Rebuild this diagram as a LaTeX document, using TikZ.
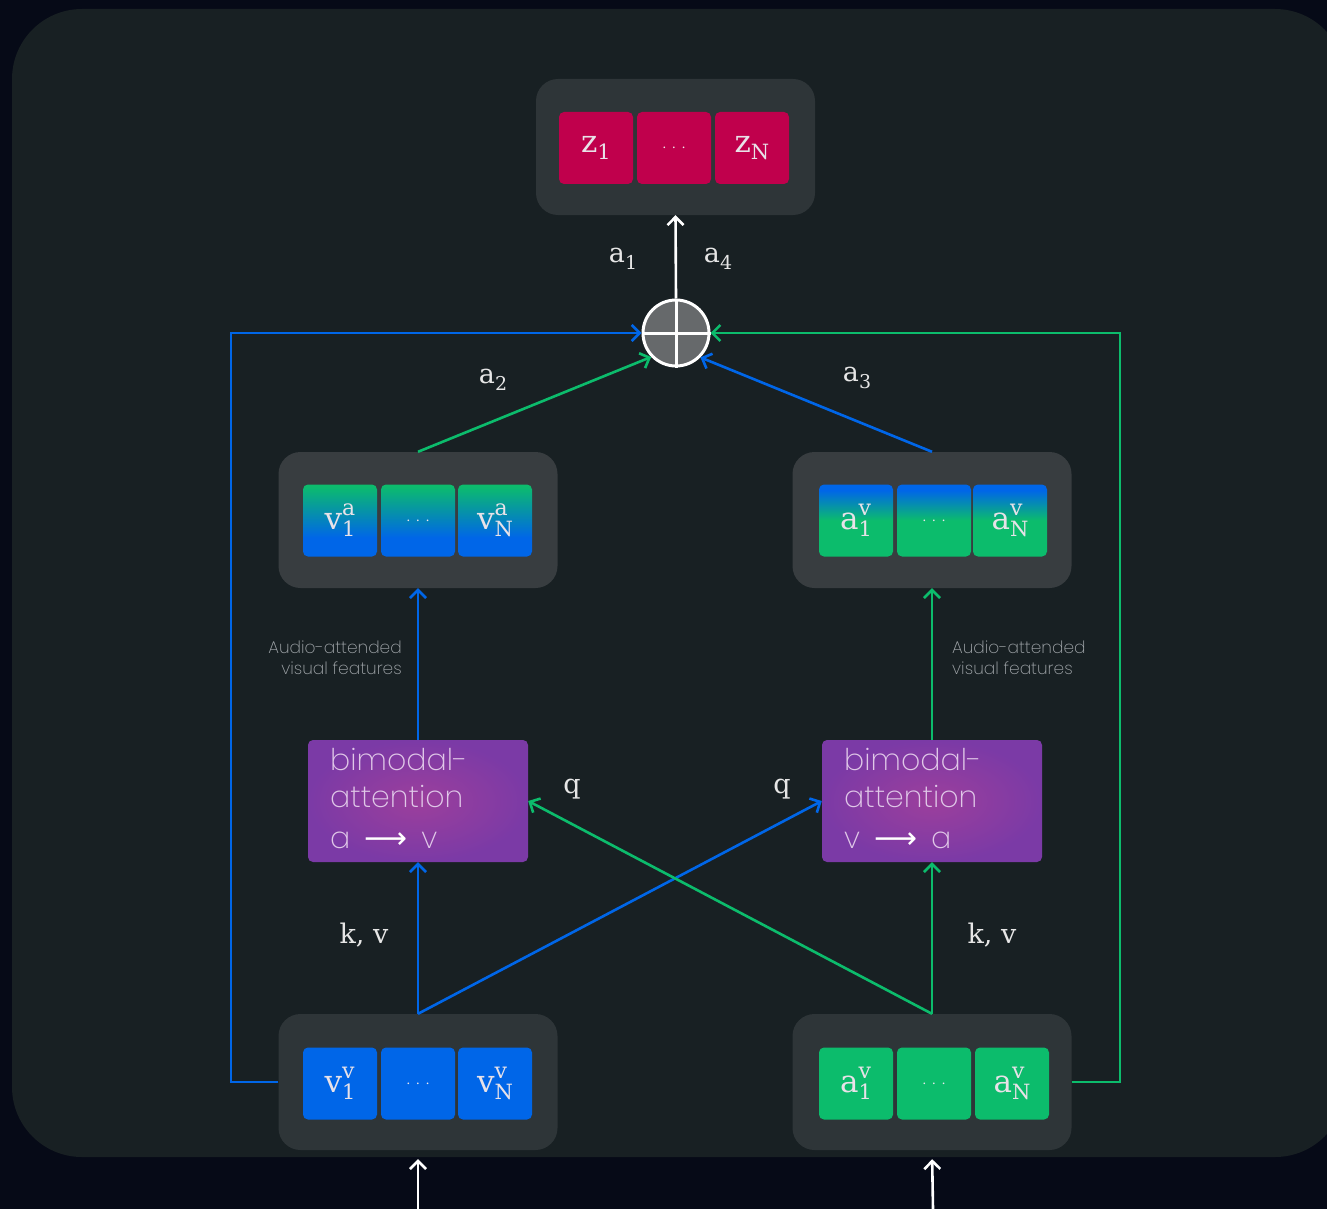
\documentclass[tikz,border=0pt]{standalone}
\usepackage{fontspec}
\setmainfont{DejaVu Serif}
\newfontfamily\thinfont{Poppins ExtraLight}
\newfontfamily\symfont{DejaVu Sans}
\usetikzlibrary{arrows.meta}

\definecolor{bgnavy}{HTML}{060A17}
\definecolor{panel}{HTML}{182023}
\definecolor{boxgray}{HTML}{2E3538}
\definecolor{boxmid}{HTML}{383D40}
\definecolor{crimson}{HTML}{C0004C}
\definecolor{vblue}{HTML}{0066E8}
\definecolor{vgreen}{HTML}{0CBC6C}
\definecolor{circgray}{HTML}{66696B}
\definecolor{purpc}{HTML}{9C3F9C}
\definecolor{purpe}{HTML}{7B3AA6}
\definecolor{celltext}{HTML}{E8E2E8}
\definecolor{lbltext}{HTML}{E6E6E6}
\definecolor{notetext}{HTML}{A2A7AB}
\definecolor{bimtext}{HTML}{E0C8E8}

% gradients of the attended feature cells
\pgfdeclareverticalshading{vafade}{100bp}{color(0bp)=(vblue); color(38bp)=(vblue); color(74bp)=(vgreen); color(100bp)=(vgreen)}
\pgfdeclareverticalshading{avfade}{100bp}{color(0bp)=(vgreen); color(50bp)=(vgreen); color(71bp)=(vblue); color(100bp)=(vblue)}

% symbol with subscript, and with stacked super/subscript
\newcommand\fsub[2]{#1\raisebox{-0.25em}{\fontsize{19}{19}\selectfont #2}}
\newcommand\csub[2]{#1\raisebox{-0.25em}{\fontsize{21}{21}\selectfont #2}}
\newcommand\fss[3]{#1\rlap{\raisebox{0.44em}{\fontsize{22}{22}\selectfont #2}}\raisebox{-0.24em}{\fontsize{21}{21}\selectfont #3}}
\newcommand\celldots{{\fontsize{13}{13}\selectfont\color{celltext!75}. . .}}

\begin{document}
\begin{tikzpicture}[x=1pt,y=-1pt,
  outerbox/.style={fill=boxgray, rounded corners=22pt, minimum width=279pt, minimum height=136pt, inner sep=0pt},
  midbox/.style={outerbox, fill=boxmid},
  cell/.style={minimum width=74pt, minimum height=72pt, rounded corners=5pt, inner sep=0pt,
    text=celltext, font=\fontsize{31}{31}\selectfont},
  bimod/.style={minimum width=220pt, minimum height=122pt, rounded corners=5pt, inner sep=0pt,
    inner color=purpc, outer color=purpe},
  bimline/.style={anchor=base west, inner sep=0pt, text=bimtext, font=\thinfont\fontsize{30}{30}\selectfont},
  lbl/.style={text=lbltext, font=\fontsize{27}{27}\selectfont, inner sep=0pt},
  note/.style={text=notetext, font=\thinfont\fontsize{17}{21}\selectfont, inner sep=0pt},
  conn/.style={line width=2.6pt, -{Straight Barb[length=8pt,width=16pt]}},
  bconn/.style={conn, draw=vblue},
  gconn/.style={conn, draw=vgreen},
  wconn/.style={conn, draw=white}]

\useasboundingbox (0,0) rectangle (1327,1209);
\fill[bgnavy] (0,0) rectangle (1327,1209);
\begin{scope}
  \clip (0,0) rectangle (1327,1209);
  \fill[panel, rounded corners=70pt] (12,9) rectangle (1345,1157);
\end{scope}

% output block
\node[outerbox] (ztop) at (675.5,147) {};
\node[cell, fill=crimson] (z1) at (596,148) {\csub{z}{1}};
\node[cell, fill=crimson] (zd) at (674,148) {\celldots};
\node[cell, fill=crimson] (zN) at (752,148) {\csub{z}{N}};

% attended features
\node[midbox] (midL) at (418,520) {};
\node[cell, shading=vafade] (va1) at (340,520.5) {\fss{v}{a}{1}};
\node[cell, shading=vafade] (vad) at (418,520.5) {\celldots};
\node[cell, shading=vafade] (vaN) at (495,520.5) {\fss{v}{a}{N}};

\node[midbox] (midR) at (932,520) {};
\node[cell, shading=avfade] (av1) at (856,520.5) {\fss{a}{v}{1}};
\node[cell, shading=avfade] (avd) at (934,520.5) {\celldots};
\node[cell, shading=avfade] (avN) at (1010,520.5) {\fss{a}{v}{N}};

% input features
\node[outerbox] (botL) at (418,1082) {};
\node[cell, fill=vblue] (vv1) at (340,1083.5) {\fss{v}{v}{1}};
\node[cell, fill=vblue] (vvd) at (418,1083.5) {\celldots};
\node[cell, fill=vblue] (vvN) at (495,1083.5) {\fss{v}{v}{N}};

\node[outerbox] (botR) at (932,1082) {};
\node[cell, fill=vgreen] (aa1) at (856,1083.5) {\fss{a}{v}{1}};
\node[cell, fill=vgreen] (aad) at (934,1083.5) {\celldots};
\node[cell, fill=vgreen] (aaN) at (1012,1083.5) {\fss{a}{v}{N}};

% bimodal attention blocks
\node[bimod] (bimL) at (418,801) {};
\node[bimline] (bimL1) at (330,770) {bimodal-};
\node[bimline] (bimL2) at (330,807) {attention};
\node[bimline] (bimL3) at (330,848) {a\hspace{14pt}{\symfont\color{white}⟶}\hspace{14pt}v};

\node[bimod] (bimR) at (932,801) {};
\node[bimline] (bimR1) at (844,770) {bimodal-};
\node[bimline] (bimR2) at (844,807) {attention};
\node[bimline] (bimR3) at (844,848) {v\hspace{14pt}{\symfont\color{white}⟶}\hspace{14pt}a};

% summation node
\node[circle, fill=circgray, draw=white, line width=3pt, minimum size=66pt, inner sep=0pt] (circ) at (676,333) {};
\draw[white, line width=3pt] (circ.north) -- (circ.south) (circ.west) -- (circ.east);

% rails and connectors
\coordinate (lrail) at (231,333);
\coordinate (rrail) at (1120,333);
\coordinate (inL) at (418,1209);
\coordinate (inR) at (933,1209);

\draw[bconn] (botL.west) -| (lrail) -- (circ.west);
\draw[gconn] (botR.east) -| (rrail) -- (circ.east);
\draw[gconn] (midL.north) -- (circ.224);
\draw[bconn] (midR.north) -- (circ.315);
\draw[wconn] (circ.north) -- (ztop.south);

\draw[bconn] (bimL.north) -- (midL.south);
\draw[gconn] (bimR.north) -- (midR.south);
\draw[bconn] (botL.north) -- (bimL.south);
\draw[gconn] (botR.north) -- (bimR.south);
\draw[bconn] (botL.north) -- (bimR.west);
\draw[gconn] (botR.north) -- (bimL.east);

\draw[wconn, shorten >=9pt] (inL) -- (botL.south);
\draw[wconn, shorten >=9pt] (inR) -- (botR.south);

% labels
\node[lbl] (la1) at (623,259) {\fsub{a}{1}};
\node[lbl] (la4) at (718,259) {\fsub{a}{4}};
\node[lbl] (la2) at (493,380) {\fsub{a}{2}};
\node[lbl] (la3) at (857,378) {\fsub{a}{3}};
\node[lbl] (lqL) at (572,789) {q};
\node[lbl] (lqR) at (782,789) {q};
\node[lbl] (lkvL) at (364,935) {k, v};
\node[lbl] (lkvR) at (992,935) {k, v};

\node[note, anchor=east, align=right] (noteL) at (402,658) {Audio-attended\\visual features};
\node[note, anchor=west, align=left] (noteR) at (952,658) {Audio-attended\\visual features};
\end{tikzpicture}
\end{document}
